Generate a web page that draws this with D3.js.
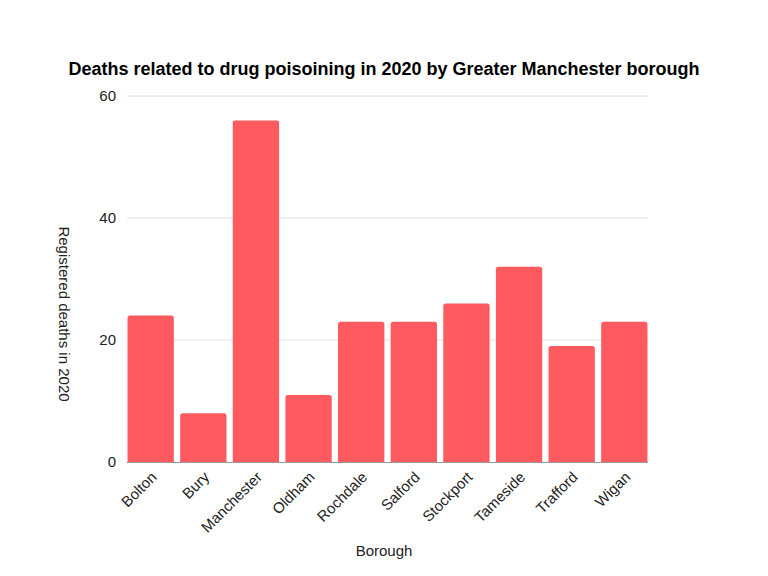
<!DOCTYPE html>
<html><head><meta charset="utf-8">
<script src="https://cdn.jsdelivr.net/npm/d3@7"></script>
<style>body{margin:0;background:#fff;}svg{display:block;font-family:"Liberation Sans",Arial,sans-serif;}</style>
</head><body>
<svg id="c" width="768" height="576"></svg>
<script>
const categories = ["Bolton","Bury","Manchester","Oldham","Rochdale","Salford","Stockport","Tameside","Trafford","Wigan"];
const deaths = [24, 8, 56, 11, 23, 23, 26, 32, 19, 23];
const yTicks = [0, 20, 40, 60];
const title = "Deaths related to drug poisoining in 2020 by Greater Manchester borough";
const xTitle = "Borough";
const yTitle = "Registered deaths in 2020";

const svg = d3.select("#c");
const m = {l:127, r:648, t:96, b:462};
const x = d3.scaleBand().domain(categories).range([m.l, m.r]).paddingInner(0.12).paddingOuter(0.01);
const y = d3.scaleLinear().domain([0, 60]).range([m.b, m.t]);

svg.append("text").attr("x", 384).attr("y", 75).attr("text-anchor","middle")
  .attr("font-size", 18).attr("font-weight","bold").attr("fill","#000").text(title);

const grid = svg.append("g");
grid.selectAll("line").data(yTicks.filter(d=>d>0)).join("line")
  .attr("x1", m.l).attr("x2", m.r).attr("y1", d=>y(d)).attr("y2", d=>y(d))
  .attr("stroke","#e0e0e0").attr("stroke-width",1);

svg.append("g").selectAll("text").data(yTicks).join("text")
  .attr("x", 116).attr("y", d=>y(d)).attr("dy","0.35em").attr("text-anchor","end")
  .attr("font-size", 15).attr("fill","#222").text(d=>d);

const r = 2.5;
svg.append("g").selectAll("path").data(categories.map((c,i)=>({c, v:deaths[i]}))).join("path")
  .attr("fill","#ff5a5f")
  .attr("d", d=>{
    const x0 = x(d.c), w = x.bandwidth(), y0 = y(d.v), y1 = y(0);
    return `M${x0},${y1}V${y0+r}Q${x0},${y0} ${x0+r},${y0}H${x0+w-r}Q${x0+w},${y0} ${x0+w},${y0+r}V${y1}Z`;
  });

svg.append("line").attr("x1", m.l).attr("x2", m.r).attr("y1", y(0)+0.5).attr("y2", y(0)+0.5)
  .attr("stroke","#999").attr("stroke-width",1);

svg.append("g").selectAll("text").data(categories).join("text")
  .attr("transform", d=>`translate(${x(d)+x.bandwidth()/2+7},${478}) rotate(-45)`)
  .attr("text-anchor","end").attr("font-size", 15).attr("fill","#222").text(d=>d);

svg.append("text").attr("x", 384).attr("y", 556).attr("text-anchor","middle")
  .attr("font-size", 15).attr("fill","#222").text(xTitle);

svg.append("text").attr("transform", `translate(59,${314}) rotate(90)`)
  .attr("text-anchor","middle").attr("font-size", 15).attr("fill","#222").text(yTitle);
</script>
</body></html>
